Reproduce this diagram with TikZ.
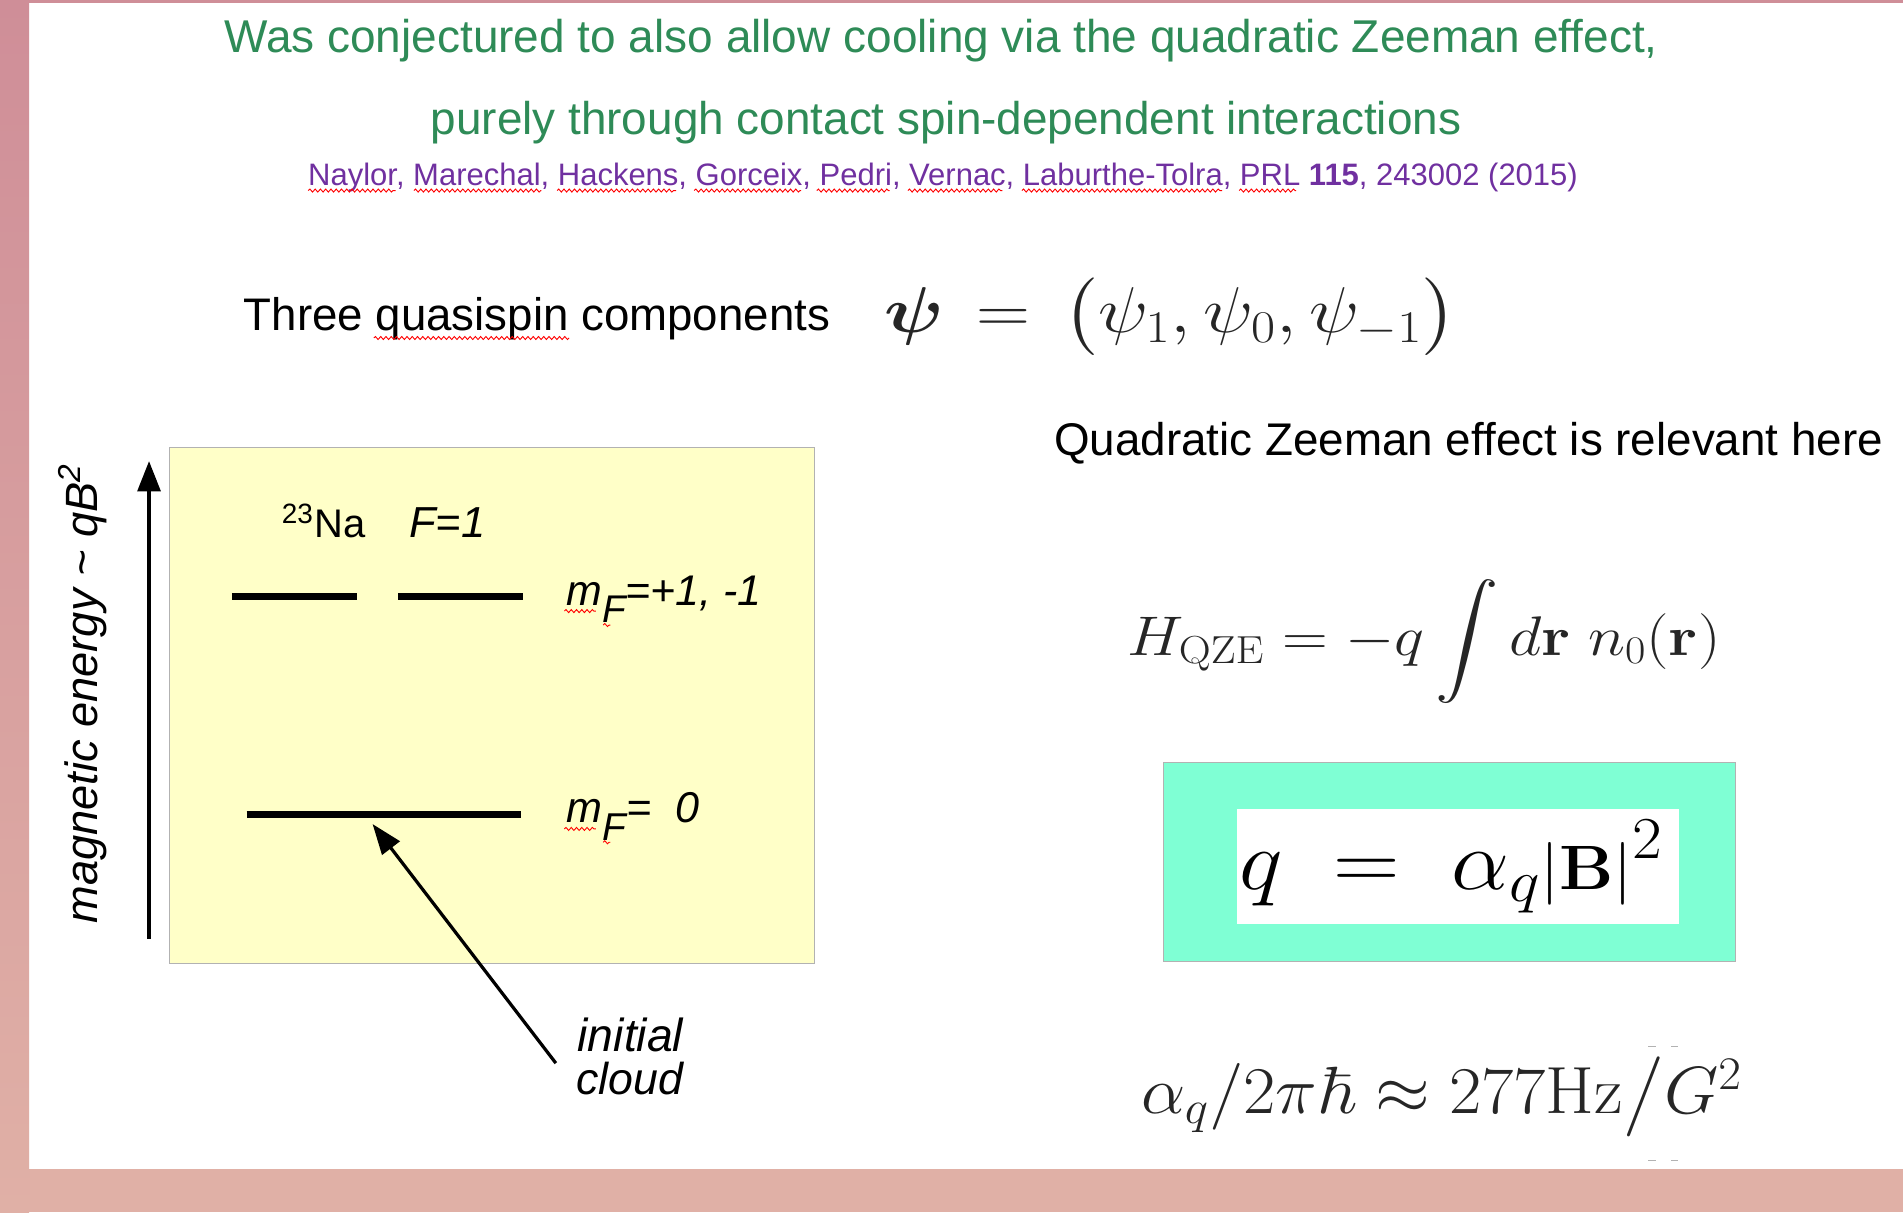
\RequirePackage{fix-cm}
\documentclass[tikz,border=0pt]{standalone}
\usepackage[no-math]{fontspec}
\usepackage{amsmath,amssymb,graphicx}
\usetikzlibrary{decorations.pathmorphing,arrows.meta}
\newfontfamily\arial{Liberation Sans}
\newlength\pxu \setlength\pxu{0.6pt}
\newcommand\fitw[2]{\resizebox{#1\pxu}{!}{#2}}
\newcommand\fitx[2]{\resizebox{#1\pxu}{\height}{#2}}
\definecolor{titlegreen}{RGB}{46,139,87}
\definecolor{citepurple}{RGB}{112,48,160}
\definecolor{framepinktop}{RGB}{207,142,152}
\definecolor{framepinkbot}{RGB}{224,176,166}
\definecolor{levelyellow}{RGB}{255,255,200}
\definecolor{aquabox}{RGB}{127,255,212}
\begin{document}
\begin{tikzpicture}[x=0.6pt,y=-0.6pt,
  txt/.style={inner sep=0pt, outer sep=0pt},
  levelline/.style={line width=3.3pt},
  squig/.style={draw=red, line width=0.45pt, decorate, decoration={snake, amplitude=0.75pt, segment length=2.6pt}},
  ptr/.style={line width=1.6pt, -{Triangle[length=15pt,width=10.8pt]}},
  vaxis/.style={line width=1.8pt, -{Triangle[length=15pt,width=11.3pt]}},
  mathgray/.style={text=black!85}]
\useasboundingbox (0,0) rectangle (1568,999);
% frame
\fill[white] (0,0) rectangle (1568,999);
\fill[framepinktop] (0,0) rectangle (1568,2.5);
\fill[framepinkbot] (0,963.3) rectangle (1568,999);
\shade[top color=framepinktop,bottom color=framepinkbot] (0,0) rectangle (24,999);
\fill[white] (27.2,998.4) rectangle (1568,999);
% title
\node[txt, anchor=base] (t1) at (775.5,43) {\fitw{1181}{\arial\color{titlegreen}Was conjectured to also allow cooling via the quadratic Zeeman effect,}};
\node[txt, anchor=base] (t2) at (779.5,111) {\fitw{849}{\arial\color{titlegreen}purely through contact spin-dependent interactions}};
\node[txt, anchor=base] (cite) at (777,152.5) {\fitw{1046}{\arial\color{citepurple}Naylor, Marechal, Hackens, Gorceix, Pedri, Vernac, Laburthe-Tolra, PRL \textbf{115}, 243002 (2015)}};
\foreach \a/\b in {254/326,341/446,459/557,572/660,673/733,748/826,842/1007,1021/1068}
  \draw[squig] (\a,157) -- (\b,157);
% quasispin line
\node[txt, anchor=base west] (three) at (201,272) {\fitw{483}{\arial Three quasispin components}};
\draw[squig] (308,278.5) -- (469,278.5);
\node[txt, anchor=base west, mathgray] (psieq) at (728.4,274) {\fitx{472}{\fontsize{32}{35}\selectfont$\boldsymbol{\psi}\,=\,\big(\psi_1,\psi_0,\psi_{-1}\big)$}};
% left panel
\node[draw=gray!60, line width=0.5pt, fill=levelyellow, minimum width=318.84pt, minimum height=255.36pt, inner sep=0pt, anchor=north west] (ybox) at (139.4,368.2) {};
\coordinate (axbot) at (122.8,773.4);
\coordinate (axtop) at (122.8,379.9);
\draw[vaxis] (axbot) -- (axtop);
\node[txt, rotate=90, anchor=base west] (ylabel) at (80,761) {\fitw{380}{\arial\itshape magnetic energy \textasciitilde{} qB\textsuperscript{2}}};
\node[txt, anchor=base west] (na) at (232.2,443.2) {\fitw{69.3}{\arial\textsuperscript{23}Na}};
\node[txt, anchor=base west] (F1) at (337.2,443.2) {\fitw{62.6}{\arial\itshape F=1}};
\coordinate (upA1) at (191,491.5);
\coordinate (upA2) at (293.8,491.5);
\coordinate (upB1) at (328.3,491.5);
\coordinate (upB2) at (431,491.5);
\coordinate (lo1) at (203.2,671);
\coordinate (lo2) at (429.6,671);
\draw[levelline] (upA1) -- (upA2);
\draw[levelline] (upB1) -- (upB2);
\draw[levelline] (lo1) -- (lo2);
\node[txt, anchor=base west] (mfup) at (466.7,498.5) {\fitw{160.8}{\arial\itshape m\raisebox{-0.4em}{\small F}=+1, -1}};
\node[txt, anchor=base west] (mfzero) at (466.7,678) {\fitw{109.3}{\arial\itshape m\raisebox{-0.4em}{\small F}=\ \ 0}};
\draw[squig] (465,503.5) -- (491,503.5);
\draw[squig] (497,515) -- (503,515);
\draw[squig] (465,683) -- (491,683);
\draw[squig] (497,694) -- (503,694);
\node[txt, anchor=base west] (cloudA) at (476,866) {\fitw{87}{\arial\itshape initial}};
\node[txt, anchor=base west] (cloudB) at (475,902) {\fitw{88}{\arial\itshape cloud}};
\coordinate (tail) at (458,876);
\coordinate (cloudtip) at (307,679);
\draw[ptr] (tail) -- (cloudtip);
% right panel
\node[txt, anchor=base west] (qze) at (868.5,375.5) {\fitw{683}{\arial Quadratic Zeeman effect is relevant here}};
\node[txt, anchor=base west, mathgray] (ham) at (929,540) {\fitx{488.6}{\fontsize{27.6}{30}\selectfont$\displaystyle H_{\mathrm{QZE}}=-q\int d\mathbf{r}\;n_0(\mathbf{r})$}};
\node[draw=gray!60, line width=0.5pt, fill=aquabox, minimum width=282.9pt, minimum height=98.58pt, inner sep=0pt, anchor=north west] (qbox) at (957.9,627.6) {};
\node[fill=white, minimum width=218.28pt, minimum height=56.88pt, inner sep=0pt, anchor=north west] (qwhite) at (1019.3,666) {};
\node[txt, anchor=base west] (qeq) at (1021.2,732.5) {\fitx{349.4}{\fontsize{42}{46}\selectfont$q\;=\;\alpha_q$\fontsize{31}{34}\selectfont$|\mathbf{B}|$\fontsize{42}{46}\selectfont${}^{2}$}};
\node[txt, anchor=base west, mathgray] (alpha) at (940.2,917.4) {\fitx{495.2}{\fontsize{33}{36}\selectfont$\alpha_q/2\pi\hbar\approx 277\mathrm{Hz}\big/G^2$}};
\foreach \yy in {862.5,956.4}{
  \draw[gray!60, line width=0.4pt] (1358,\yy) -- (1364.4,\yy);
  \draw[gray!60, line width=0.4pt] (1377.2,\yy) -- (1382.7,\yy);
}
\end{tikzpicture}
\end{document}
